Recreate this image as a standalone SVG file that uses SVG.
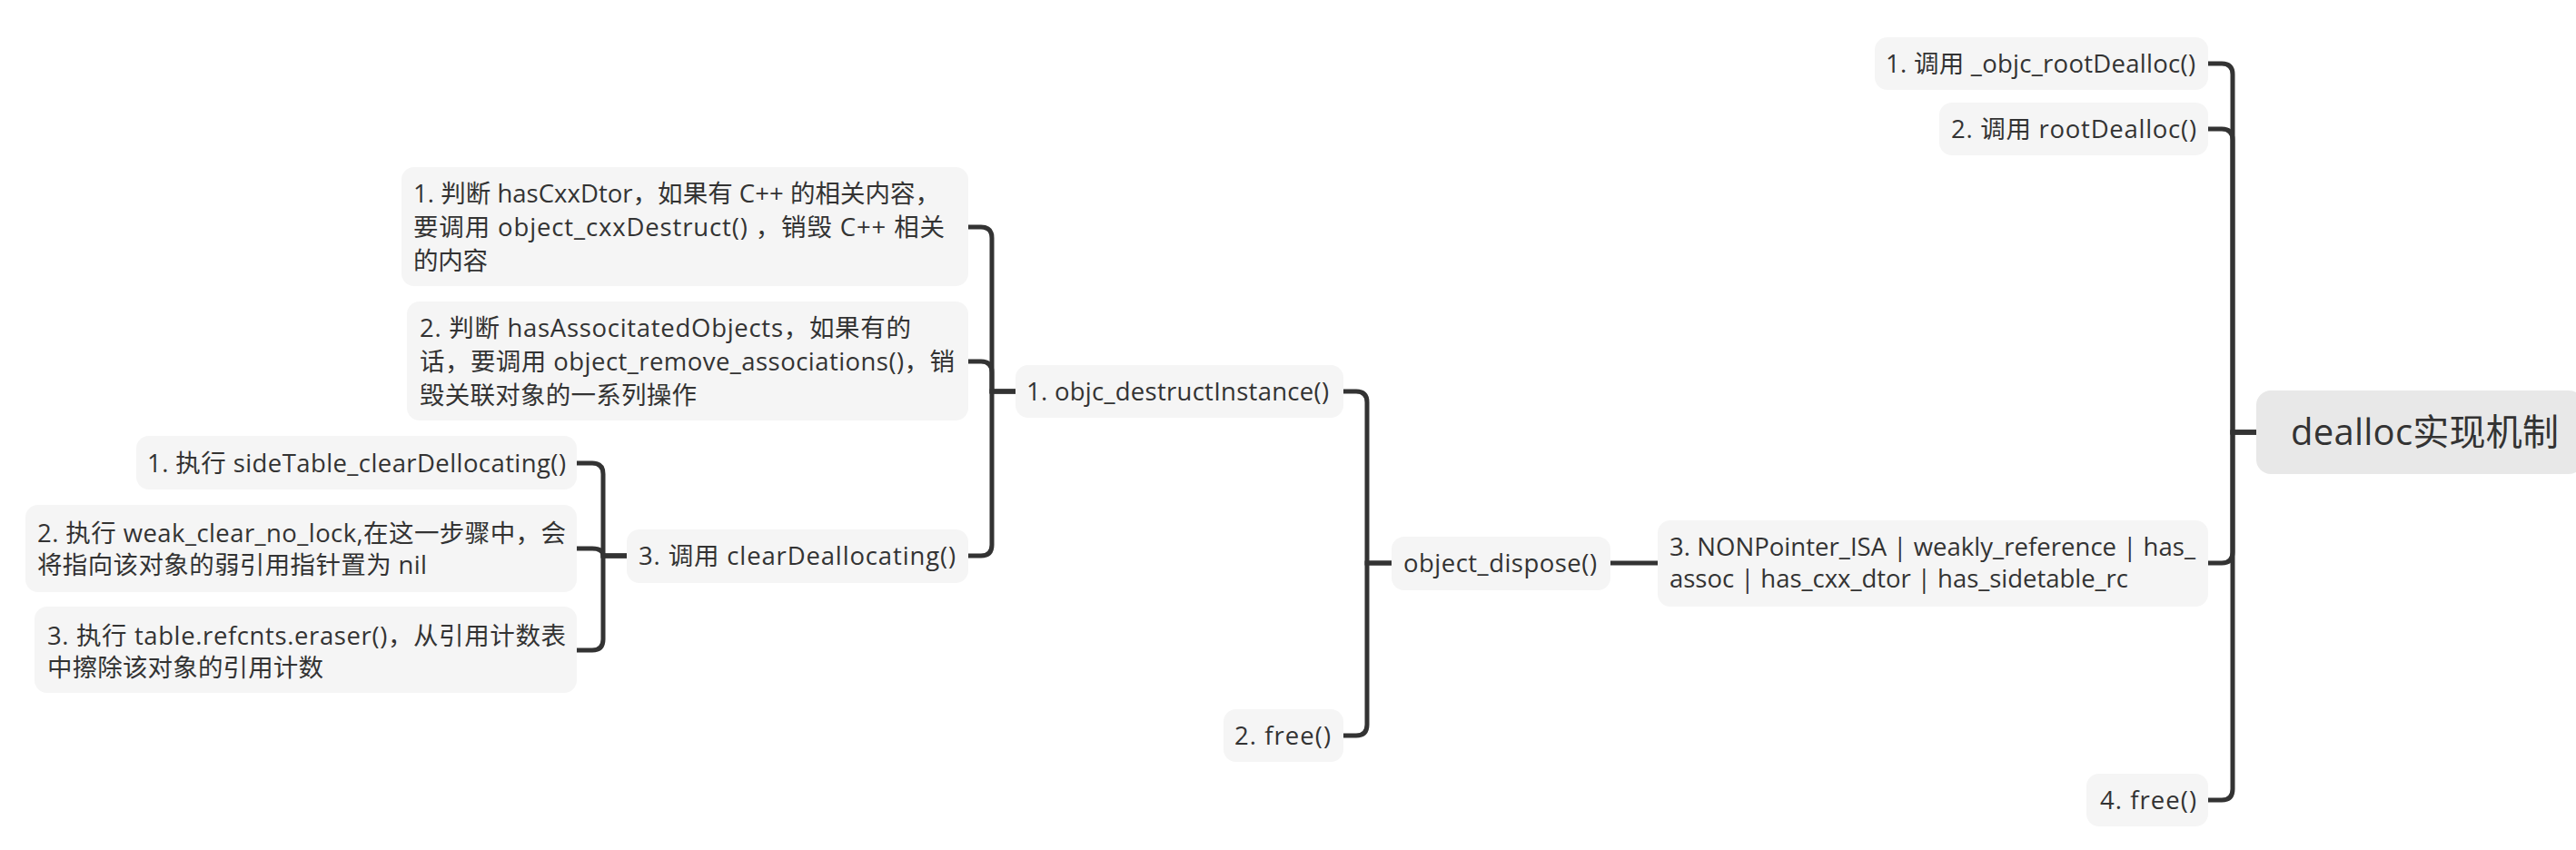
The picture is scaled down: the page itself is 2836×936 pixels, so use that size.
<svg xmlns="http://www.w3.org/2000/svg" width="2836" height="936" viewBox="0 0 2836 936">
<style>
.bg{fill:#ffffff}
.box{fill:#f5f5f5}
.root{fill:#e8e8e8}
.t{font-family:"Open Sans","Noto Sans CJK SC",sans-serif;font-size:27.5px;fill:#333333}
.rt{font-family:"Open Sans","Noto Sans CJK SC",sans-serif;font-size:40px;fill:#333333}
.c{fill:none;stroke:#333333;stroke-width:5}
</style>
<rect class="bg" x="0" y="0" width="2836" height="936"/>
<g id="connectors">
<path class="c" d="M2431,70 H2446 Q2458,70 2458,82 V476 H2484"/>
<path class="c" d="M2431,142 H2446 Q2458,142 2458,154 V476 H2484"/>
<path class="c" d="M2431,620 H2446 Q2458,620 2458,608 V476 H2484"/>
<path class="c" d="M2431,881 H2446 Q2458,881 2458,869 V476 H2484"/>
<path class="c" d="M1825,620 H1773"/>
<path class="c" d="M1479,431 H1493 Q1505,431 1505,443 V620 H1532"/>
<path class="c" d="M1479,810 H1493 Q1505,810 1505,798 V620 H1532"/>
<path class="c" d="M1066,250 H1080 Q1092,250 1092,262 V431 H1118"/>
<path class="c" d="M1066,398 H1080 Q1092,398 1092,410 V431 H1118"/>
<path class="c" d="M1066,612 H1080 Q1092,612 1092,600 V431 H1118"/>
<path class="c" d="M635,510 H652 Q664,510 664,522 V612 H690"/>
<path class="c" d="M635,604 H652 Q664,604 664,612 H690"/>
<path class="c" d="M635,716 H652 Q664,716 664,704 V612 H690"/>
</g>
<g id="root">
<rect class="root" x="2484" y="430" width="360" height="92" rx="16"/>
<text class="rt" x="2522" y="490" textLength="295">dealloc实现机制</text>
</g>
<g id="n-rootdealloc1">
<rect class="box" x="2064" y="41" width="367" height="58" rx="14"/>
<text class="t" x="2076" y="80" textLength="341">1. 调用 _objc_rootDealloc()</text>
</g>
<g id="n-rootdealloc2">
<rect class="box" x="2135" y="113" width="296" height="58" rx="14"/>
<text class="t" x="2148" y="152" textLength="270">2. 调用 rootDealloc()</text>
</g>
<g id="n-nonpointer">
<rect class="box" x="1825" y="573" width="606" height="95" rx="14"/>
<text class="t" x="1838" y="612" textLength="579">3. NONPointer_ISA | weakly_reference | has_</text>
<text class="t" x="1838" y="647" textLength="505">assoc | has_cxx_dtor | has_sidetable_rc</text>
</g>
<g id="n-free4">
<rect class="box" x="2297" y="852" width="134" height="58" rx="14"/>
<text class="t" x="2312" y="891" textLength="106">4. free()</text>
</g>
<g id="n-dispose">
<rect class="box" x="1532" y="591" width="241" height="59" rx="14"/>
<text class="t" x="1545" y="630" textLength="213">object_dispose()</text>
</g>
<g id="n-destruct">
<rect class="box" x="1118" y="402" width="361" height="58" rx="14"/>
<text class="t" x="1130" y="441" textLength="333">1. objc_destructInstance()</text>
</g>
<g id="n-free2">
<rect class="box" x="1347" y="781" width="132" height="58" rx="14"/>
<text class="t" x="1359" y="820" textLength="106">2. free()</text>
</g>
<g id="n-cxx">
<rect class="box" x="442" y="184" width="624" height="131" rx="14"/>
<text class="t" x="455" y="223" textLength="580">1. 判断 hasCxxDtor，如果有 C++ 的相关内容，</text>
<text class="t" x="455" y="260" textLength="585">要调用 object_cxxDestruct() ，销毁 C++ 相关</text>
<text class="t" x="455" y="297" textLength="82">的内容</text>
</g>
<g id="n-assoc">
<rect class="box" x="448" y="332" width="618" height="131" rx="14"/>
<text class="t" x="462" y="371" textLength="541">2. 判断 hasAssocitatedObjects，如果有的</text>
<text class="t" x="462" y="408" textLength="589">话，要调用 object_remove_associations()，销</text>
<text class="t" x="462" y="445" textLength="305">毁关联对象的一系列操作</text>
</g>
<g id="n-clear">
<rect class="box" x="690" y="583" width="376" height="59" rx="14"/>
<text class="t" x="703" y="622" textLength="349">3. 调用 clearDeallocating()</text>
</g>
<g id="n-sidetable">
<rect class="box" x="150" y="480" width="485" height="59" rx="14"/>
<text class="t" x="162" y="520" textLength="461">1. 执行 sideTable_clearDellocating()</text>
</g>
<g id="n-weak">
<rect class="box" x="28" y="556" width="607" height="96" rx="14"/>
<text class="t" x="41" y="597" textLength="582">2. 执行 weak_clear_no_lock,在这一步骤中，会</text>
<text class="t" x="41" y="632" textLength="429">将指向该对象的弱引用指针置为 nil</text>
</g>
<g id="n-refcnt">
<rect class="box" x="38" y="668" width="597" height="95" rx="14"/>
<text class="t" x="52" y="710" textLength="571">3. 执行 table.refcnts.eraser()，从引用计数表</text>
<text class="t" x="52" y="745" textLength="304">中擦除该对象的引用计数</text>
</g>
</svg>
